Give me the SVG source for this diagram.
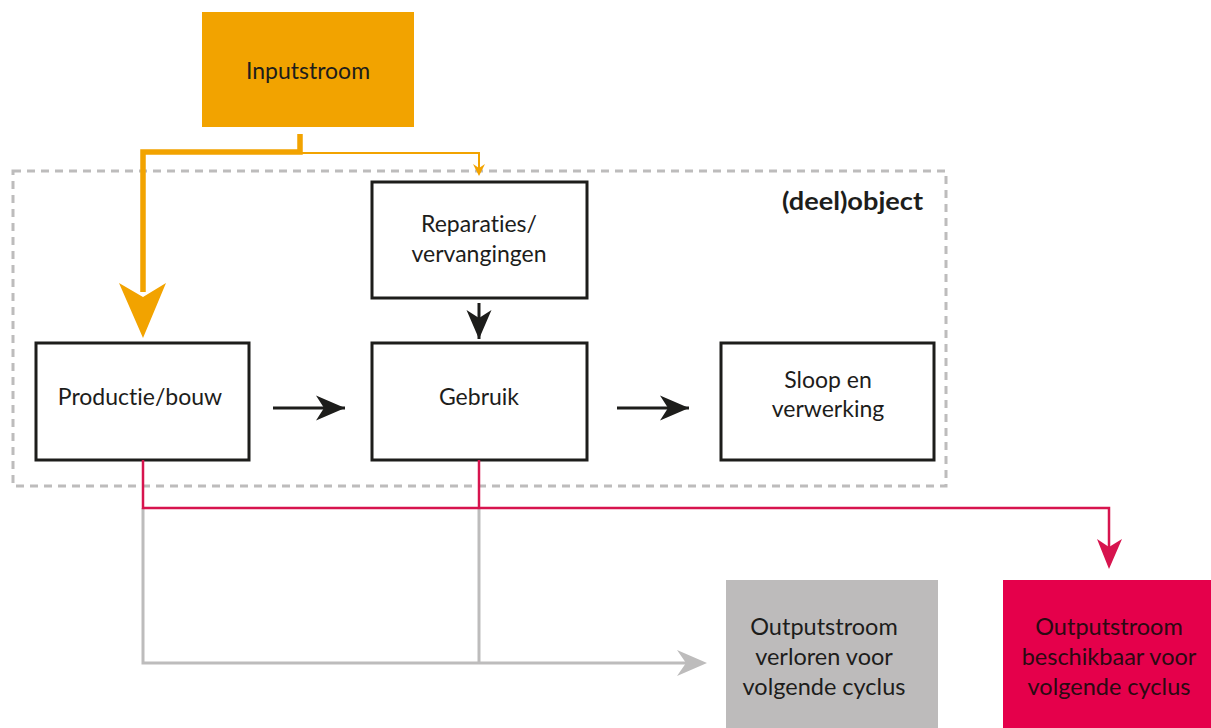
<svg xmlns="http://www.w3.org/2000/svg" width="1211" height="728" viewBox="0 0 1211 728">
  <style>
    .lbl { font-family: Lato, "Liberation Sans", sans-serif; font-size: 23px; fill: #1d1d1b; text-anchor: middle; font-variant-ligatures: none; }
    .out { font-size: 23.5px; }
    .box { fill: #ffffff; stroke: #1d1d1b; stroke-width: 3; }
    .blk { stroke: #1d1d1b; stroke-width: 3; fill: none; }
    .org { stroke: #f2a300; fill: none; }
    .red { stroke: #d7144e; stroke-width: 2.5; fill: none; }
    .gry { stroke: #bdbcbc; stroke-width: 3; fill: none; }
  </style>
  <defs>
    <marker id="ah-black" markerUnits="userSpaceOnUse" markerWidth="32" markerHeight="28" viewBox="0 -14 32 28" refX="29" refY="0" orient="auto">
      <path d="M0,-12.5 L29,0 L0,12.5 L8,0 Z" fill="#1d1d1b"/>
    </marker>
  </defs>
  <rect width="1211" height="728" fill="#ffffff"/>

  <!-- object boundary -->
  <g id="deelobject">
    <rect x="13" y="171" width="933" height="315" fill="none" stroke="#bdbcbc" stroke-width="3" stroke-dasharray="8,6"/>
    <text x="923" y="210" class="lbl" style="text-anchor:end;font-weight:bold;font-size:25px" textLength="141" lengthAdjust="spacingAndGlyphs">(deel)object</text>
  </g>

  <g id="inputstroom">
    <rect x="202" y="12" width="212" height="115" fill="#f2a300"/>
    <text x="308" y="79" class="lbl">Inputstroom</text>
  </g>

  <g id="reparaties">
    <rect x="372" y="182" width="215" height="116" class="box"/>
    <text x="479" y="232" class="lbl">Reparaties/</text>
    <text x="479" y="262" class="lbl">vervangingen</text>
  </g>

  <g id="productie">
    <rect x="36" y="343" width="213" height="117" class="box"/>
    <text x="140" y="405" class="lbl">Productie/bouw</text>
  </g>

  <g id="gebruik">
    <rect x="372" y="343" width="215" height="117" class="box"/>
    <text x="479" y="405" class="lbl">Gebruik</text>
  </g>

  <g id="sloop">
    <rect x="721" y="343" width="213" height="117" class="box"/>
    <text x="828" y="388" class="lbl">Sloop en</text>
    <text x="828" y="417" class="lbl">verwerking</text>
  </g>

  <g id="output-verloren">
    <rect x="726" y="580" width="212" height="148" fill="#bdbbbb"/>
    <text x="824" y="635" class="lbl out">Outputstroom</text>
    <text x="824" y="665" class="lbl out">verloren voor</text>
    <text x="824" y="695" class="lbl out">volgende cyclus</text>
  </g>

  <g id="output-beschikbaar">
    <rect x="1003" y="580" width="208" height="148" fill="#e5004b"/>
    <text x="1109" y="635" class="lbl out" style="fill:#2a0a12">Outputstroom</text>
    <text x="1109" y="665" class="lbl out" style="fill:#2a0a12">beschikbaar voor</text>
    <text x="1109" y="695" class="lbl out" style="fill:#2a0a12">volgende cyclus</text>
  </g>

  <g id="connectors">
    <!-- input flows -->
    <path d="M300,134 V152 H143 V292" class="org" stroke-width="5.5"/>
    <path d="M119,283 L143,297 L166,283 L143,338 Z" fill="#f2a300"/>
    <path d="M300,153 H479 V168" class="org" stroke-width="2"/>
    <path d="M473,164 L479,168 L485,164 L479,176 Z" fill="#f2a300"/>

    <!-- process flow -->
    <line x1="479" y1="303" x2="479" y2="339" class="blk" marker-end="url(#ah-black)"/>
    <line x1="273" y1="408" x2="345" y2="408" class="blk" marker-end="url(#ah-black)"/>
    <line x1="617" y1="408" x2="689" y2="408" class="blk" marker-end="url(#ah-black)"/>

    <!-- lost output -->
    <path d="M143,508 V663 H690" class="gry"/>
    <path d="M479,508 V663" class="gry"/>
    <path d="M677,650 L707,663 L677,676 L686,663 Z" fill="#bdbcbc"/>

    <!-- available output -->
    <path d="M143,460 V508 H1109 V548" class="red"/>
    <path d="M479,460 V508" class="red"/>
    <path d="M1097,539 L1109,547 L1122,539 L1109,569 Z" fill="#d7144e"/>
  </g>
</svg>
